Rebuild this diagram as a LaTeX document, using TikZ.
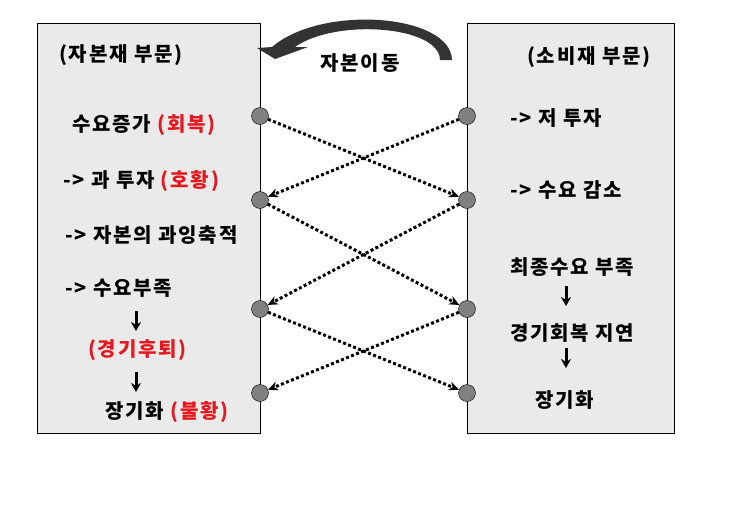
\documentclass[tikz,border=0pt]{standalone}
\usepackage{fontspec}
\setmainfont{Noto Sans CJK KR}
\newfontfamily\krfont[LetterSpace=9]{Noto Sans CJK KR}
\usetikzlibrary{arrows.meta}
\definecolor{hotred}{RGB}{228,24,30}
\definecolor{boxgray}{RGB}{234,234,234}
\definecolor{dotgray}{RGB}{128,128,128}
\begin{document}
\begin{tikzpicture}[>=stealth,x=1pt,y=-1pt,
  every node/.style={font=\krfont\fontsize{20}{22}\selectfont\bfseries},
  lbl/.style={anchor=west,inner sep=0pt},
  port/.style={circle,draw,fill=dotgray,minimum size=17pt,inner sep=0pt},
  flow/.style={-{Stealth[length=10pt,width=9pt]},line width=3pt,dash pattern=on 3pt off 2.4pt},
  down/.style={-{Stealth[length=9pt,width=10pt]},line width=3pt}]
\useasboundingbox (0,0) rectangle (752,507);
% the two sectors
\draw[fill=boxgray](37,23)rectangle(260,433);
\draw[fill=boxgray](467,23)rectangle(674,433);
% capital movement
\fill[black!80](440,60)--(452,60)..controls(451,14)and(322,4)..(272,47)--(257,48)--(275,59)--(308,47)--(295,47)..controls(336,18)and(440,26)..(440,60)--cycle;
\node at (360,63){자본이동};
% capital goods sector
\node[lbl](t0) at (59,55){(자본재 부문)};
\node[lbl](t1) at (72,125){수요증가 \textcolor{hotred}{(회복)}};
\node[lbl](t2) at (63,181){-> 과 투자 \textcolor{hotred}{(호황)}};
\node[lbl](t3) at (65,235){-> 자본의 과잉축적};
\node[lbl](t4) at (65,288){-> 수요부족};
\node[lbl,text=hotred](t5) at (88,350){(경기후퇴)};
\node[lbl](t6) at (105,412){장기화 \textcolor{hotred}{(불황)}};
\draw[down](136,311)--(136,331);
\draw[down](136,372)--(136,392);
% consumer goods sector
\node[lbl](s0) at (527,57){(소비재 부문)};
\node[lbl](s1) at (510,118){-> 저 투자};
\node[lbl](s2) at (510,190){-> 수요 감소};
\node[lbl](s3) at (510,267){최종수요 부족};
\node[lbl](s4) at (510,333){경기회복 지연};
\node[lbl](s5) at (535,400){장기화};
\draw[down](566,286)--(566,306);
\draw[down](566,348)--(566,368);
% ports
\foreach \i/\y in {1/116,2/200,3/309,4/393}{
  \node[port](l\i) at (260,\y){};
  \node[port](r\i) at (467,\y){};
}
\draw[flow](l1)--(r2);
\draw[flow](r1)--(l2);
\draw[flow](l2)--(r3);
\draw[flow](r2)--(l3);
\draw[flow](l3)--(r4);
\draw[flow](r3)--(l4);
\end{tikzpicture}
\end{document}
